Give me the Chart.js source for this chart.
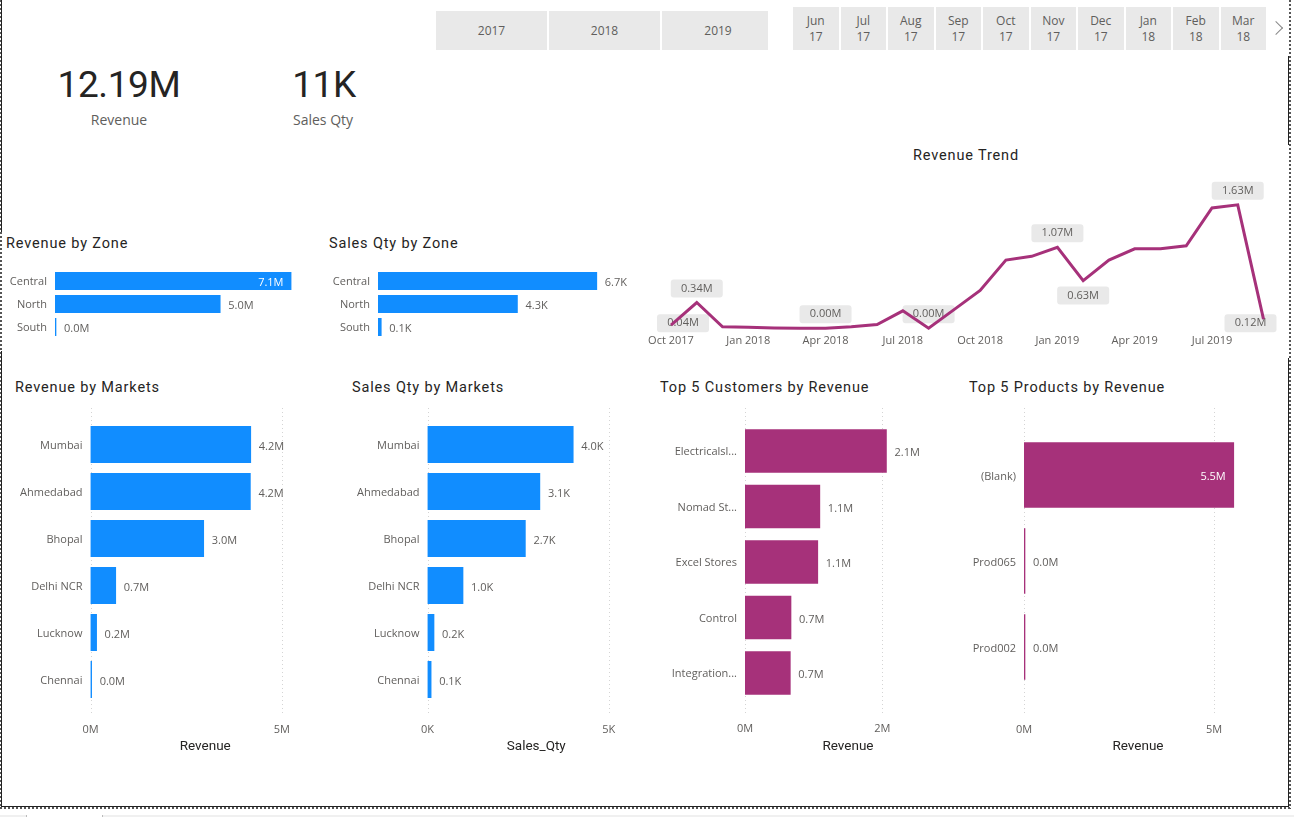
<!DOCTYPE html>
<html>
<head>
<meta charset="utf-8">
<title>Sales dashboard</title>
<script src="https://cdn.jsdelivr.net/npm/chart.js@4"></script>
<style>
html, body { margin: 0; padding: 0; background: #fff; overflow: hidden; }
#page { position: relative; width: 1294px; height: 817px; font-family: "Open Sans", sans-serif; }
.solid { position: absolute; background: #222; }
.dashV { position: absolute; background: repeating-linear-gradient(to bottom, #555 0 2px, transparent 2px 4px); }
.dashH { position: absolute; background: repeating-linear-gradient(to right, #555 0 2px, transparent 2px 4px); }
#strip { position: absolute; left: 0; top: 815px; width: 1294px; height: 2px; background: #f0f0f0; }
#tab { position: absolute; left: 26px; top: 815px; width: 75px; height: 2px; background: #fff; border-left: 1px solid #bbb; border-right: 1px solid #bbb; }
canvas { position: absolute; }
.title { position: absolute; font-family: Roboto, sans-serif; font-size: 14.5px; font-weight: 400; letter-spacing: 0.85px; color: #252423; line-height: 18px; white-space: nowrap; }
.kpi { position: absolute; width: 200px; text-align: center; font-family: Roboto, sans-serif; font-size: 37px; letter-spacing: -0.4px; color: #252423; line-height: 44px; }
.kpi-label { position: absolute; width: 200px; text-align: center; font-size: 14px; color: #605e5c; line-height: 20px; }
.btn { position: absolute; background: #e9e9e9; color: #605e5c; font-size: 12px; line-height: 16px; display: flex; align-items: center; justify-content: center; text-align: center; }
#chevron { position: absolute; left: 1271px; top: 23px; width: 10px; height: 10px; transform: rotate(45deg); border-top: 1px solid #888; border-right: 1px solid #888; box-sizing: border-box; }
</style>
</head>
<body>
<div id="page">
  <div id="strip"></div>
  <div id="tab"></div>
  <div id="chevron"></div>
</div>
<script>
var years = ['2017', '2018', '2019'];
var months = ['Jun', 'Jul', 'Aug', 'Sep', 'Oct', 'Nov', 'Dec', 'Jan', 'Feb', 'Mar'];
var monthYears = ['17', '17', '17', '17', '17', '17', '17', '18', '18', '18'];

var zones = ['Central', 'North', 'South'];
var zoneRevenue = [7.1, 4.96, 0.03];
var zoneQty = [6.7, 4.27, 0.1];

var markets = ['Mumbai', 'Ahmedabad', 'Bhopal', 'Delhi NCR', 'Lucknow', 'Chennai'];
var marketRevenue = [4.19, 4.18, 2.96, 0.66, 0.16, 0.03];
var marketQty = [4.02, 3.1, 2.7, 0.98, 0.18, 0.1];

var customers = ['Electricalsl...', 'Nomad St...', 'Excel Stores', 'Control', 'Integration...'];
var customerRevenue = [2.06, 1.09, 1.06, 0.67, 0.66];

var products = ['(Blank)', 'Prod065', 'Prod002'];
var productRevenue = [5.52, 0.02, 0.02];

var trendMonths = ['Oct 2017', 'Nov 2017', 'Dec 2017', 'Jan 2018', 'Feb 2018', 'Mar 2018', 'Apr 2018', 'May 2018',
    'Jun 2018', 'Jul 2018', 'Aug 2018', 'Sep 2018', 'Oct 2018', 'Nov 2018', 'Dec 2018', 'Jan 2019', 'Feb 2019',
    'Mar 2019', 'Apr 2019', 'May 2019', 'Jun 2019', 'Jul 2019', 'Aug 2019', 'Sep 2019'];
var trendRevenue = [0.04, 0.34, 0.02, 0.013, 0.005, 0.001, 0.001, 0.02, 0.05, 0.23, 0.001, 0.25, 0.5, 0.9, 0.95,
    1.07, 0.63, 0.9, 1.05, 1.05, 1.09, 1.59, 1.63, 0.12];
var trendCalloutsAbove = [1, 6, 10, 15, 22];
var trendCalloutsBelow = [0, 16, 23];

var BLUE = '#118dff';
var PURPLE = '#a6317a';
var LABEL_FONT = '11px "Open Sans", sans-serif';
var page = document.getElementById('page');

function addDiv(cls, text, css) {
    var d = document.createElement('div');
    d.className = cls;
    d.innerHTML = text;
    for (var k in css) d.style[k] = css[k] + 'px';
    page.appendChild(d);
    return d;
}

function addCanvas(id, x, y, w, h) {
    var c = document.createElement('canvas');
    c.id = id;
    c.width = w;
    c.height = h;
    c.style.left = x + 'px';
    c.style.top = y + 'px';
    page.appendChild(c);
    return c;
}

// page frame: a dotted edge plus the solid stretches of the selected visuals
addDiv('dashV', '', { left: 0, top: 0, width: 2, height: 809 });
addDiv('dashV', '', { left: 1289, top: 0, width: 2, height: 809 });
addDiv('dashH', '', { left: 0, top: 807, width: 1291, height: 2 });
addDiv('solid', '', { left: 1, top: 0, width: 1, height: 232 });
addDiv('solid', '', { left: 1, top: 351, width: 1, height: 456 });
addDiv('solid', '', { left: 1288, top: 56, width: 1, height: 89 });
addDiv('solid', '', { left: 1288, top: 358, width: 1, height: 449 });
addDiv('solid', '', { left: 1, top: 806, width: 1288, height: 1 });

// slicers
var yearX = [436, 549, 662], yearW = [111, 111, 106], yearPad = [0, 0, 6];
years.forEach(function(y, i) {
    var b = addDiv('btn', y, { left: yearX[i], top: 11, width: yearW[i], height: 39 });
    b.style.paddingLeft = yearPad[i] + 'px';
    b.style.boxSizing = 'border-box';
});
months.forEach(function(m, i) {
    addDiv('btn', m + '<br>' + monthYears[i], { left: 793 + i * 47.5, top: 7, width: 45.5, height: 43 });
});

// cards
addDiv('kpi', '12.19M', { left: 19, top: 63 });
addDiv('kpi-label', 'Revenue', { left: 19, top: 110 });
addDiv('kpi', '11K', { left: 224, top: 63 });
addDiv('kpi-label', 'Sales Qty', { left: 223, top: 110 });

// titles
addDiv('title', 'Revenue by Zone', { left: 6, top: 235 });
addDiv('title', 'Sales Qty by Zone', { left: 329, top: 235 });
addDiv('title', 'Revenue by Markets', { left: 15, top: 379 });
addDiv('title', 'Sales Qty by Markets', { left: 352, top: 379 });
addDiv('title', 'Top 5 Customers by Revenue', { left: 660, top: 379 });
addDiv('title', 'Top 5 Products by Revenue', { left: 969, top: 379 });
addDiv('title', 'Revenue Trend', { left: 913, top: 147 });

// dotted grid that runs past the bars, and value labels at the bar ends
var barExtras = {
    id: 'barExtras',
    beforeDatasetsDraw: function(chart, args, o) {
        if (!o.grid) return;
        var ctx = chart.ctx, xs = chart.scales.x;
        ctx.save();
        ctx.strokeStyle = '#d4d4d4';
        ctx.setLineDash([1, 3]);
        xs.ticks.forEach(function(t) {
            var px = Math.round(xs.getPixelForValue(t.value)) + 0.5;
            ctx.beginPath();
            ctx.moveTo(px, o.grid[0]);
            ctx.lineTo(px, o.grid[1]);
            ctx.stroke();
        });
        ctx.restore();
    },
    afterDatasetsDraw: function(chart, args, o) {
        var ctx = chart.ctx, meta = chart.getDatasetMeta(0), vals = chart.data.datasets[0].data;
        ctx.save();
        ctx.font = LABEL_FONT;
        ctx.textBaseline = 'middle';
        meta.data.forEach(function(bar, i) {
            var text = vals[i].toFixed(1) + o.suffix;
            if (o.inside && i === 0) {
                ctx.fillStyle = '#fff';
                ctx.textAlign = 'right';
                ctx.fillText(text, bar.x - 8, bar.y + 2);
            } else {
                ctx.fillStyle = '#605e5c';
                ctx.textAlign = 'left';
                ctx.fillText(text, bar.x + 8, bar.y + 2);
            }
        });
        ctx.restore();
    }
};

function hbar(id, box, plot, labels, values, color, cfg) {
    var c = addCanvas(id, box[0], box[1], box[2], box[3]);
    var axisH = box[1] + box[3] - plot.bottom;
    new Chart(c, {
        type: 'bar',
        plugins: [barExtras],
        data: {
            labels: labels,
            datasets: [{ data: values, backgroundColor: color, barThickness: plot.thick, minBarLength: 1 }]
        },
        options: {
            indexAxis: 'y',
            responsive: false,
            animation: false,
            events: [],
            layout: { padding: { top: plot.top - box[1], right: box[0] + box[2] - plot.right, left: 0, bottom: 0 } },
            plugins: {
                legend: { display: false },
                tooltip: { enabled: false },
                barExtras: {
                    suffix: cfg.suffix,
                    inside: cfg.inside,
                    grid: cfg.axisTitle ? [408 - box[1], 713 - box[1]] : null
                }
            },
            scales: {
                y: {
                    grid: { display: false, drawTicks: false },
                    border: { display: false },
                    afterFit: function(s) { s.width = plot.left - box[0]; },
                    ticks: {
                        color: '#605e5c',
                        font: { family: '"Open Sans"', size: 11 },
                        padding: 8,
                        labelOffset: cfg.labelOffset || 0
                    }
                },
                x: {
                    min: 0,
                    max: cfg.max,
                    grid: { display: false, drawTicks: false },
                    border: { display: false },
                    afterFit: function(s) { s.height = axisH; },
                    title: {
                        display: !!cfg.axisTitle,
                        text: cfg.axisTitle,
                        color: '#252423',
                        padding: 0,
                        font: { family: 'Roboto', size: 13.5, weight: '400' }
                    },
                    ticks: {
                        display: !!cfg.axisTitle,
                        stepSize: cfg.step,
                        includeBounds: false,
                        maxRotation: 0,
                        padding: cfg.tickPad,
                        color: '#605e5c',
                        font: { family: '"Open Sans"', size: 11 },
                        callback: function(v) { return v + cfg.suffix; }
                    }
                }
            }
        }
    });
}

hbar('zoneRev', [3, 245, 297, 115], { left: 55, right: 291.5, top: 269.5, bottom: 338.5, thick: 17.5 },
    zones, zoneRevenue, BLUE, { max: 7.1, suffix: 'M', inside: true, labelOffset: 1 });
hbar('zoneQty', [325, 245, 320, 115], { left: 378, right: 636, top: 269.5, bottom: 338.5, thick: 17.5 },
    zones, zoneQty, BLUE, { max: 7.9, suffix: 'K', labelOffset: 1 });

hbar('marketRev', [3, 400, 327, 355], { left: 90.5, right: 320, top: 421, bottom: 703, thick: 36.5 },
    markets, marketRevenue, BLUE, { max: 6, step: 5, suffix: 'M', axisTitle: 'Revenue', tickPad: 20, labelOffset: 1 });
hbar('marketQty', [330, 400, 325, 355], { left: 427.5, right: 645, top: 421, bottom: 703, thick: 36.5 },
    markets, marketQty, BLUE, { max: 6, step: 5, suffix: 'K', axisTitle: 'Sales_Qty', tickPad: 20, labelOffset: 1 });
hbar('custRev', [655, 400, 305, 355], { left: 745, right: 951, top: 423.3, bottom: 700.7, thick: 43 },
    customers, customerRevenue, PURPLE, { max: 3, step: 2, suffix: 'M', axisTitle: 'Revenue', tickPad: 22, labelOffset: 1 });
hbar('prodRev', [960, 400, 310, 355], { left: 1024, right: 1252, top: 432, bottom: 690, thick: 65 },
    products, productRevenue, PURPLE, { max: 6, step: 5, suffix: 'M', axisTitle: 'Revenue', tickPad: 33, inside: true, labelOffset: 2 });

// callouts sit behind the line, as in the report
var callouts = {
    id: 'callouts',
    beforeDatasetsDraw: function(chart) {
        var ctx = chart.ctx, meta = chart.getDatasetMeta(0), area = chart.chartArea;
        function draw(i, dy) {
            var pt = meta.data[i], w = 52, h = 18;
            var cx = Math.min(Math.max(pt.x, area.left + 12), area.right - 13);
            var cy = Math.min(pt.y + dy, area.bottom - 8);
            ctx.fillStyle = '#e9e9e9';
            ctx.beginPath();
            ctx.roundRect(cx - w / 2, cy - h / 2, w, h, 3);
            ctx.fill();
            ctx.fillStyle = '#605e5c';
            ctx.font = LABEL_FONT;
            ctx.textAlign = 'center';
            ctx.textBaseline = 'middle';
            var v = trendRevenue[i];
            ctx.fillText(v.toFixed(2) + 'M', cx, cy);
        }
        ctx.save();
        trendCalloutsAbove.forEach(function(i) { draw(i, -14); });
        trendCalloutsBelow.forEach(function(i) { draw(i, 15); });
        ctx.restore();
    }
};

new Chart(addCanvas('trend', 640, 172, 648, 178), {
    type: 'line',
    plugins: [callouts],
    data: {
        labels: trendMonths,
        datasets: [{ data: trendRevenue, borderColor: PURPLE, borderWidth: 3, pointRadius: 0, tension: 0, clip: false }]
    },
    options: {
        responsive: false,
        animation: false,
        events: [],
        layout: { padding: { left: 31, right: 24.5, top: 20, bottom: 0 } },
        plugins: { legend: { display: false }, tooltip: { enabled: false } },
        scales: {
            y: { display: false, min: -0.04, max: 1.8 },
            x: {
                offset: false,
                grid: { display: false, drawTicks: false },
                border: { display: false },
                afterFit: function(s) { s.height = 18.7; },
                ticks: {
                    autoSkip: false,
                    maxRotation: 0,
                    padding: 3,
                    color: '#605e5c',
                    font: { family: '"Open Sans"', size: 11 },
                    callback: function(v, i) { return i % 3 === 0 ? trendMonths[i] : ''; }
                }
            }
        }
    }
});
</script>
</body>
</html>
